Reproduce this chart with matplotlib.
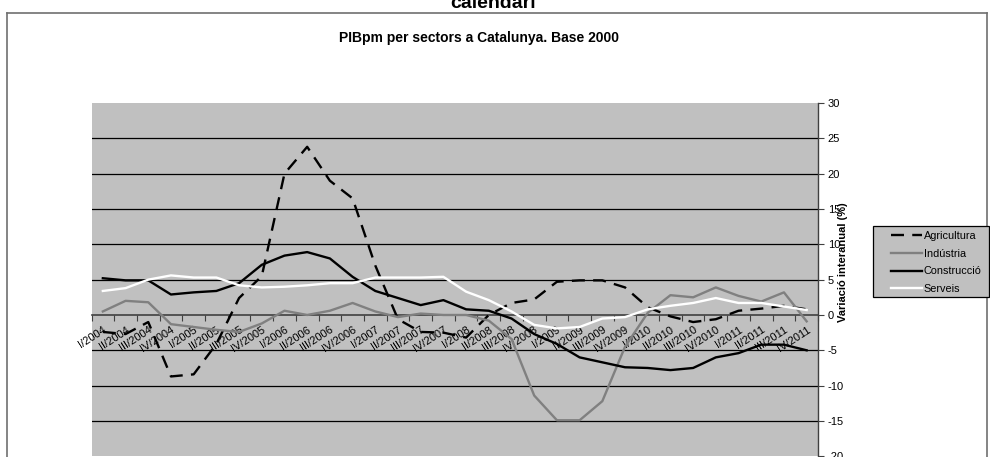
import matplotlib
matplotlib.use("Agg")
import matplotlib.pyplot as plt
from matplotlib.lines import Line2D
from matplotlib.patches import Rectangle
import numpy as np

plt.rcParams['font.family'] = ['Liberation Sans', 'DejaVu Sans']

quarters = ["I", "II", "III", "IV"]
years = [2004, 2005, 2006, 2007, 2008, 2009, 2010, 2011]
categories = [f"{q}/{y}" for y in years for q in quarters]

agricultura = [-2.4, -2.7, -1.0, -8.7, -8.4, -4.1, 2.4, 5.5,
               20.0, 23.8, 19.0, 16.5, 7.0, -0.6, -2.4, -2.5,
               -3.2, 0.0, 1.7, 2.2, 4.7, 4.9, 4.9, 3.9,
               1.1, -0.2, -1.0, -0.6, 0.6, 0.9, 1.3, 0.8]
industria = [0.5, 2.0, 1.8, -1.3, -1.7, -2.1, -2.4, -1.2,
             0.6, 0.0, 0.6, 1.7, 0.5, -0.3, 0.2, 0.0,
             0.0, -0.8, -3.4, -11.4, -14.9, -14.9, -12.2, -4.5,
             0.3, 2.8, 2.5, 3.9, 2.7, 1.9, 3.2, -0.9]
construccio = [5.2, 4.9, 4.9, 2.9, 3.2, 3.4, 4.5, 7.1,
               8.4, 8.9, 8.0, 5.4, 3.4, 2.4, 1.4, 2.1,
               0.8, 0.6, -0.5, -2.7, -4.1, -6.0, -6.7, -7.4,
               -7.5, -7.8, -7.5, -6.0, -5.4, -4.2, -4.2, -5.0]
serveis = [3.4, 3.8, 5.0, 5.6, 5.3, 5.3, 4.2, 3.9,
           4.0, 4.2, 4.5, 4.5, 5.3, 5.3, 5.3, 5.4,
           3.3, 2.1, 0.5, -1.4, -1.9, -1.7, -0.5, -0.3,
           0.8, 1.3, 1.7, 2.4, 1.7, 1.7, 1.2, 0.7]
series_names = ["Agricultura", "Indústria", "Construcció", "Serveis"]
yticks = [-20, -15, -10, -5, 0, 5, 10, 15, 20, 25, 30]

W, H = 990, 457
fig = plt.figure(figsize=(W / 100, H / 100), dpi=100)
fig.patch.set_facecolor("white")

left, right, top, bottom = 91.5, 818, 103, 456.3
ax = fig.add_axes([left / W, 1 - bottom / H, (right - left) / W, (bottom - top) / H])
ax.set_facecolor("#c0c0c0")

x = np.arange(len(categories))
lw = 1.7
h1, = ax.plot(x, agricultura, color="black", lw=lw, ls=(0, (5.5, 3.5)), label=series_names[0], zorder=4)
h2, = ax.plot(x, industria, color="#808080", lw=lw, label=series_names[1], zorder=4)
h3, = ax.plot(x, construccio, color="black", lw=lw, label=series_names[2], zorder=4)
h4, = ax.plot(x, serveis, color="white", lw=lw, label=series_names[3], zorder=4)

ax.set_xlim(-0.5, len(categories) - 0.5)
ax.set_ylim(-20, 30)

for v in yticks:
    if v not in (0, 30, -20):
        ax.axhline(v, color="black", lw=0.9, zorder=1)

for s in ["top", "left"]:
    ax.spines[s].set_visible(False)
ax.spines["bottom"].set_position(("data", 0))
ax.spines["bottom"].set_color("#404040")
ax.spines["bottom"].set_linewidth(1.2)
ax.spines["bottom"].set_zorder(2)
ax.spines["right"].set_color("#404040")
ax.spines["right"].set_linewidth(1.0)

ax.yaxis.tick_right()
ax.set_yticks(yticks)
ax.set_yticklabels([str(v) for v in yticks], fontsize=8)
ax.tick_params(axis="y", direction="out", length=4, width=0.8, color="#404040", pad=3)

ax.set_xticks(x)
ax.set_xticklabels(categories, fontsize=8, rotation=33, ha="right", va="top",
                   rotation_mode="anchor")
ax.tick_params(axis="x", length=0, pad=7)
ax.set_xticks(np.arange(len(categories) + 1) - 0.5, minor=True)
ax.tick_params(axis="x", which="minor", direction="out", length=4, width=0.8, color="#404040")

fig.text(843 / W, 1 - 262 / H, "Variació interanual (%)", rotation=90,
         ha="center", va="center", fontsize=8, fontweight="bold")

fig.text(479 / W, 1 - 38 / H, "PIBpm per sectors a Catalunya. Base 2000",
         ha="center", va="center", fontsize=10, fontweight="bold")
fig.text(493 / W, 1 - 8 / H, "calendari", ha="center", va="baseline",
         fontsize=14, fontweight="bold")

# legend box
fig.add_artist(Rectangle((873 / W, 1 - 297 / H), (989 - 873) / W, (297 - 226) / H,
                         transform=fig.transFigure, facecolor="#c0c0c0",
                         edgecolor="black", lw=0.9, zorder=5))
leg = fig.legend(handles=[h1, h2, h3, h4], loc="upper left",
                 bbox_to_anchor=(888 / W, 1 - 228 / H),
                 bbox_transform=fig.transFigure, borderaxespad=0, fontsize=7.8,
                 frameon=False, handlelength=2.8, handletextpad=0.2,
                 labelspacing=0.7, borderpad=0.3)
leg.set_zorder(6)

fc = "#707070"
fig.add_artist(Line2D([7.3 / W, 7.3 / W], [1 - 13.3 / H, 0], transform=fig.transFigure, color=fc, lw=1.2))
fig.add_artist(Line2D([7.3 / W, 987 / W], [1 - 13.3 / H, 1 - 13.3 / H], transform=fig.transFigure, color=fc, lw=1.2))
fig.add_artist(Line2D([987 / W, 987 / W], [1 - 13.3 / H, 0], transform=fig.transFigure, color=fc, lw=1.2))

fig.savefig("out.png", dpi=100)
